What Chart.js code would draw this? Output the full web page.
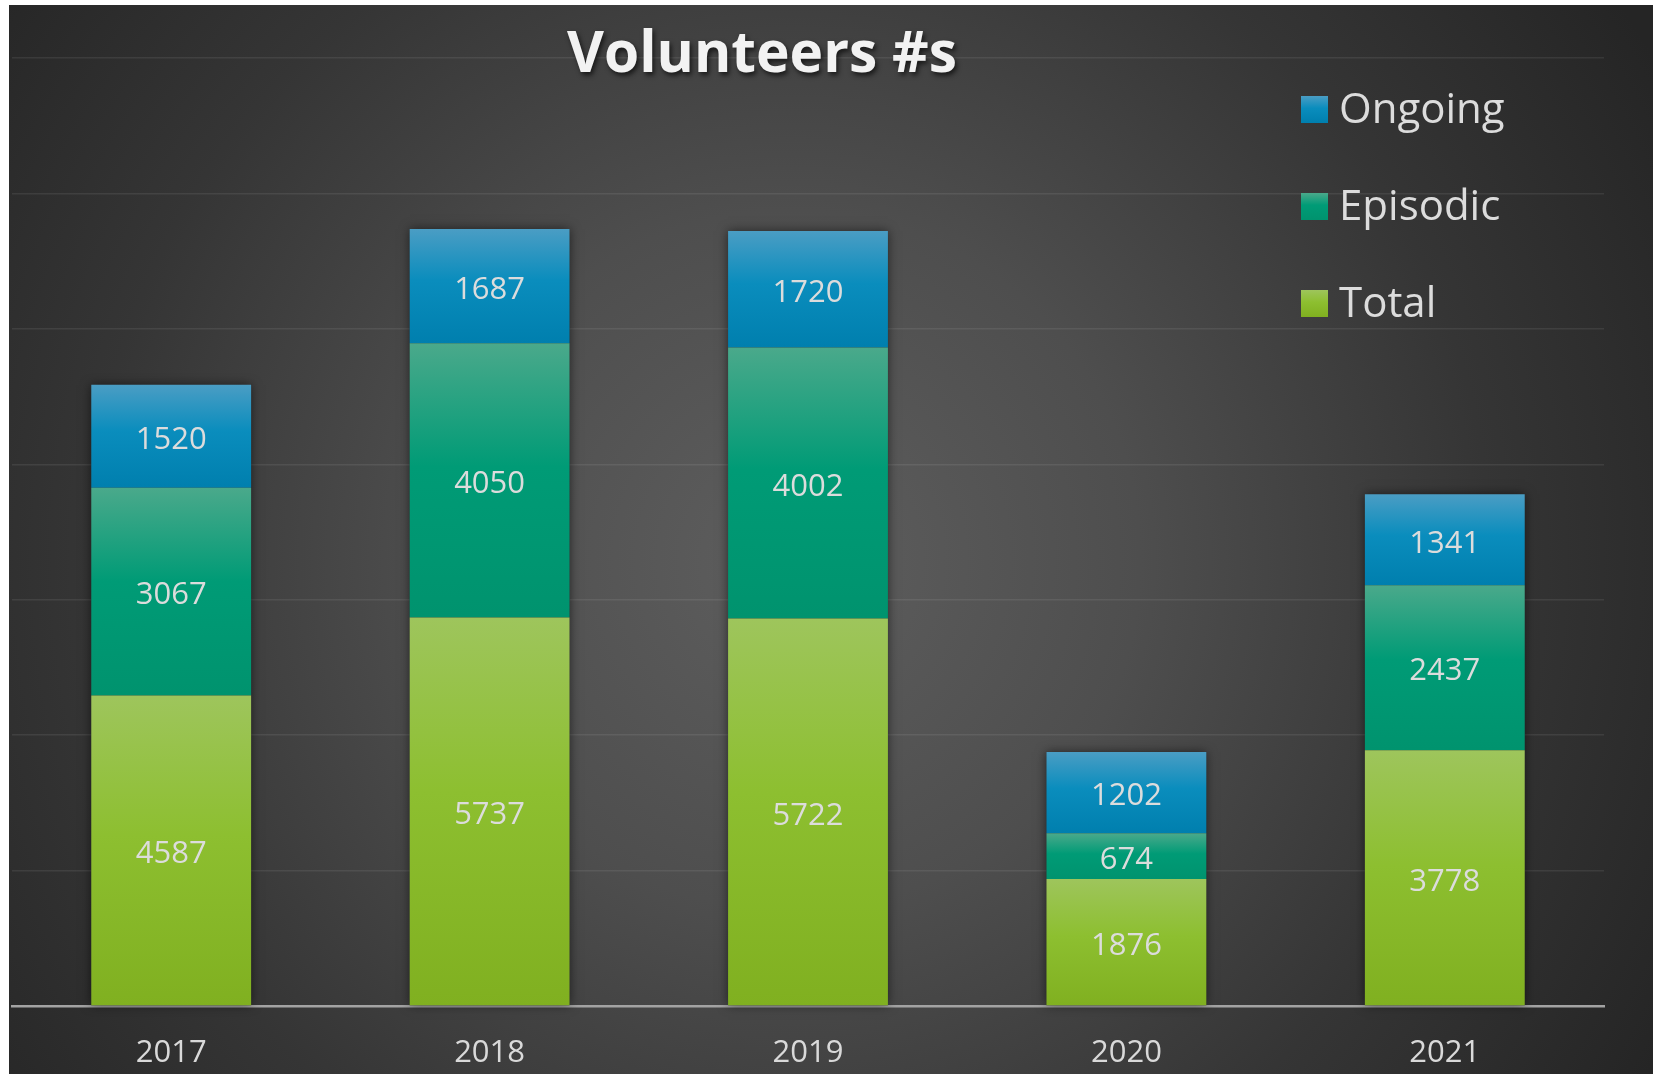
<!DOCTYPE html>
<html>
<head>
<meta charset="utf-8">
<script src="https://cdn.jsdelivr.net/npm/chart.js@4/dist/chart.umd.min.js"></script>
<style>
  html, body { margin: 0; padding: 0; background: #ffffff; }
  #wrap { position: absolute; left: 0; top: 0; width: 1653px; height: 1074px; }
</style>
</head>
<body>
<div id="wrap"><canvas id="c" width="1653" height="1074"></canvas></div>
<script>
const years = ['2017', '2018', '2019', '2020', '2021'];
const totalValues = [4587, 5737, 5722, 1876, 3778];
const episodicValues = [3067, 4050, 4002, 674, 2437];
const ongoingValues = [1520, 1687, 1720, 1202, 1341];
const seriesNames = ['Total', 'Episodic', 'Ongoing'];
const yMax = 14000;
const yStep = 2000;
const chartTitle = 'Volunteers #s';

const FONT = '"Open Sans", "Noto Sans", sans-serif';
const palettes = {
  Total:    ['#9ec55c', '#8dbf30', '#80b020'],
  Episodic: ['#4aa98b', '#009b76', '#00936e'],
  Ongoing:  ['#4a9dc4', '#0a8dbd', '#007fae']
};

function makeGrad(ctx2d, y0, y1, pal) {
  const g = ctx2d.createLinearGradient(0, y0, 0, y1);
  g.addColorStop(0, pal[0]);
  g.addColorStop(0.45, pal[1]);
  g.addColorStop(1, pal[2]);
  return g;
}

function segColor(name) {
  return function (ctx) {
    const chart = ctx.chart;
    const ys = chart.scales && chart.scales.y;
    const pal = palettes[name];
    if (!ys || ctx.type !== 'data') return pal[1];
    const di = ctx.datasetIndex, idx = ctx.dataIndex;
    let start = 0;
    for (let k = 0; k < di; k++) start += chart.data.datasets[k].data[idx];
    const end = start + chart.data.datasets[di].data[idx];
    const y0 = ys.getPixelForValue(end), y1 = ys.getPixelForValue(start);
    if (!isFinite(y0) || !isFinite(y1) || y0 === y1) return pal[1];
    return makeGrad(chart.ctx, y0, y1, pal);
  };
}

const bgPlugin = {
  id: 'bg',
  beforeDraw(chart) {
    const c = chart.ctx;
    c.save();
    c.fillStyle = '#ffffff';
    c.fillRect(0, 0, chart.width, chart.height);
    const g = c.createRadialGradient(790, 560, 0, 790, 560, 1000);
    g.addColorStop(0, '#5e5e5e');
    g.addColorStop(0.35, '#4e4e4e');
    g.addColorStop(0.7, '#353535');
    g.addColorStop(1, '#252525');
    c.fillStyle = g;
    c.fillRect(9, 5, chart.width - 9, chart.height - 5);
    c.restore();
  }
};

const shadowPlugin = {
  id: 'barShadow',
  beforeDatasetsDraw(chart) {
    const c = chart.ctx;
    const metas = chart.data.datasets.map((d, i) => chart.getDatasetMeta(i));
    c.save();
    c.shadowColor = 'rgba(0,0,0,0.55)';
    c.shadowBlur = 10;
    c.fillStyle = '#303030';
    for (let j = 0; j < years.length; j++) {
      let top = Infinity, base = -Infinity, x = 0, w = 0;
      metas.forEach(m => {
        const el = m.data[j];
        top = Math.min(top, el.y);
        base = Math.max(base, el.base);
        x = el.x; w = el.width;
      });
      c.fillRect(x - w / 2, top, w, base - top);
    }
    c.restore();
  }
};

const labelPlugin = {
  id: 'segLabels',
  afterDatasetsDraw(chart) {
    const c = chart.ctx;
    c.save();
    c.font = '31px ' + FONT;
    c.fillStyle = '#dcdcdc';
    c.textAlign = 'center';
    c.textBaseline = 'middle';
    chart.data.datasets.forEach((ds, i) => {
      const meta = chart.getDatasetMeta(i);
      meta.data.forEach((el, j) => {
        c.fillText(String(ds.data[j]), el.x, (el.y + el.base) / 2 + 4);
      });
    });
    c.restore();
  }
};

const titleLegendPlugin = {
  id: 'titleLegend',
  afterDraw(chart) {
    const c = chart.ctx;
    // Title
    c.save();
    c.font = 'bold 58px ' + FONT;
    c.textBaseline = 'alphabetic';
    c.textAlign = 'left';
    const w = c.measureText(chartTitle).width;
    const targetW = 390;
    c.translate(567, 72);
    c.scale(targetW / w, 1);
    c.shadowColor = 'rgba(0,0,0,0.65)';
    c.shadowBlur = 5;
    c.shadowOffsetX = 2;
    c.shadowOffsetY = 3;
    c.fillStyle = '#f2f2f2';
    c.fillText(chartTitle, 0, 0);
    c.restore();

    // Legend (top to bottom: Ongoing, Episodic, Total)
    const order = ['Ongoing', 'Episodic', 'Total'];
    const tops = [96, 193, 290];
    c.save();
    c.font = '42px ' + FONT;
    c.textBaseline = 'middle';
    c.textAlign = 'left';
    order.forEach((name, i) => {
      const y = tops[i];
      c.fillStyle = makeGrad(c, y, y + 27, palettes[name]);
      c.fillRect(1301, y, 27, 27);
      c.fillStyle = '#dcdcdc';
      c.fillText(name, 1339, y + 15);
    });
    c.restore();
  }
};

new Chart(document.getElementById('c'), {
  type: 'bar',
  data: {
    labels: years,
    datasets: [
      { label: seriesNames[0], data: totalValues, backgroundColor: segColor('Total') },
      { label: seriesNames[1], data: episodicValues, backgroundColor: segColor('Episodic') },
      { label: seriesNames[2], data: ongoingValues, backgroundColor: segColor('Ongoing') }
    ]
  },
  options: {
    responsive: false,
    animation: false,
    devicePixelRatio: 1,
    layout: { padding: { left: 12, top: 58, right: 49, bottom: 0 } },
    datasets: { bar: { categoryPercentage: 1, barPercentage: 0.502, borderWidth: 0 } },
    plugins: { legend: { display: false }, title: { display: false }, tooltip: { enabled: false } },
    scales: {
      x: {
        stacked: true,
        grid: { display: false, drawTicks: false },
        border: { display: true, color: '#a3a3a3', width: 2.5 },
        ticks: { color: '#d9d9d9', font: { family: FONT, size: 31 }, padding: 29, maxRotation: 0 },
        afterFit(s) { s.height = 68; }
      },
      y: {
        stacked: true,
        min: 0, max: yMax,
        ticks: { display: false, stepSize: yStep },
        grid: { color: 'rgba(255,255,255,0.08)', lineWidth: 1.5, drawTicks: false },
        border: { display: false },
        afterFit(s) { s.width = 0; }
      }
    }
  },
  plugins: [bgPlugin, shadowPlugin, labelPlugin, titleLegendPlugin]
});
</script>
</body>
</html>
